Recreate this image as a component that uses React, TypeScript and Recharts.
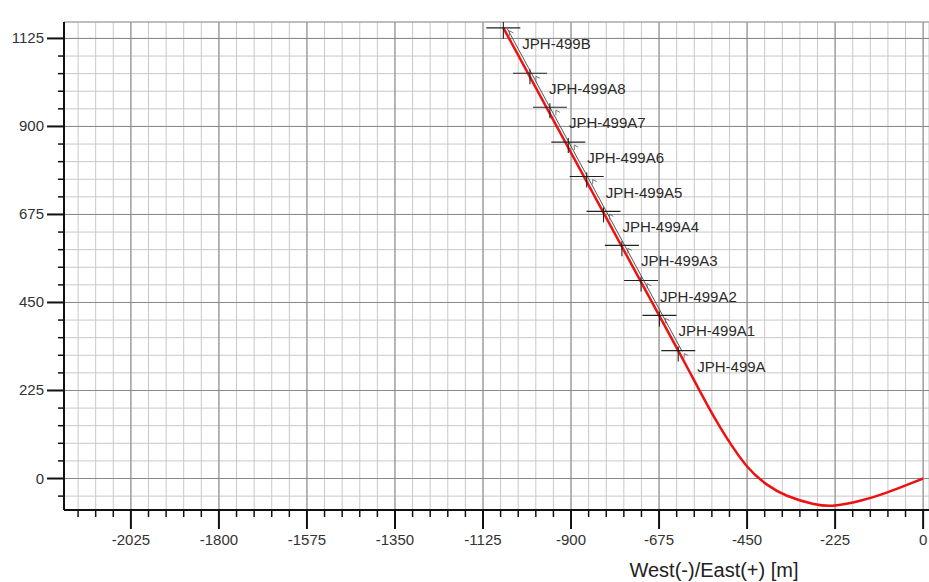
import React from 'react';
import { ComposedChart, Line, Scatter, XAxis, YAxis, CartesianGrid, ReferenceLine } from 'recharts';

// Well path (plan view): East/West [m] vs North/South [m]
// curved build section (surface at 0,0) up to JPH-499A
const curveX = [0, -25, -93, -161, -225, -280, -348, -400, -451, -502, -536, -570, -596, -626];
const curveY = [0, -10, -36, -57, -69, -65, -44, -15, 32, 104, 160, 222, 271, 327];
// straight section JPH-499A -> JPH-499B
const straightX = [-626, -1073];
const straightY = [327, 1152];

// Thin dark guide line beside the straight section
const guideX = [-1063, -616];
const guideY = [1150, 325];

// Markers
const markerNames = ['JPH-499B', 'JPH-499A8', 'JPH-499A7', 'JPH-499A6', 'JPH-499A5', 'JPH-499A4', 'JPH-499A3', 'JPH-499A2', 'JPH-499A1', 'JPH-499A'];
const markerX = [-1073, -1005, -954, -907, -860, -817, -770, -721, -674, -626];
const markerY = [1152, 1036, 949, 860, 772, 683, 596, 506, 417, 327];

// Axis ticks
const xMajor = [-2025, -1800, -1575, -1350, -1125, -900, -675, -450, -225, 0];
const yMajor = [0, 225, 450, 675, 900, 1125];
const xDomain = [-2196, 15];
const yDomain = [-80.5, 1167];

const xMinor: number[] = [];
for (let v = -2160; v <= 0; v += 45) xMinor.push(v);
const yMinor: number[] = [];
for (let v = -45; v <= 1125; v += 45) yMinor.push(v);

const curveData = curveX.map((x, i) => ({ x, y: curveY[i] }));
const straightData = straightX.map((x, i) => ({ x, y: straightY[i] }));
const guideData = guideX.map((x, i) => ({ x, y: guideY[i] }));
const markerData = markerNames.map((name, i) => ({ name, x: markerX[i], y: markerY[i] }));

const FONT = 'Liberation Sans, Arial, sans-serif';

const XTick = (props: any) => {
  const { x, y, payload } = props;
  const v = payload.value;
  const major = xMajor.includes(v);
  return (
    <g>
      <line x1={x} x2={x} y1={y} y2={y + (major ? 19 : 7)} stroke="#111" strokeWidth={major ? 2 : 1.5} />
      {major && (
        <text x={x} y={y + 35} textAnchor="middle" fontSize={15} fill="#333" fontFamily={FONT}>
          {v}
        </text>
      )}
    </g>
  );
};

const YTick = (props: any) => {
  const { x, y, payload } = props;
  const v = payload.value;
  const major = yMajor.includes(v);
  return (
    <g>
      <line x1={x} x2={x - (major ? 17 : 6)} y1={y} y2={y} stroke="#111" strokeWidth={major ? 2 : 1.5} />
      {major && (
        <text x={x - 20} y={y + 5} textAnchor="end" fontSize={15} fill="#333" fontFamily={FONT}>
          {v}
        </text>
      )}
    </g>
  );
};

const MarkerShape = (props: any) => {
  const { cx, cy, payload } = props;
  const top = payload.name === 'JPH-499B' ? cy - 18 : cy - 4;
  return (
    <g>
      <line x1={cx - 17} x2={cx + 17} y1={cy} y2={cy} stroke="#222" strokeWidth={1.1} />
      <line x1={cx} x2={cx} y1={top} y2={cy + 11} stroke="#222" strokeWidth={1.1} />
      <line x1={cx + 6} x2={cx + 6} y1={cy + 3} y2={cy + 8} stroke="#555" strokeWidth={0.8} />
      <line x1={cx + 6} x2={cx + 10} y1={cy + 3} y2={cy + 5} stroke="#555" strokeWidth={0.8} />
      <text x={cx + 19} y={cy + 21} fontSize={15} fill="#2a2a2a" fontFamily={FONT}>
        {payload.name}
      </text>
    </g>
  );
};

const AxisTitle = () => (
  <text x={714} y={577} textAnchor="middle" fontSize={20} fill="#222" fontFamily={FONT}>
    West(-)/East(+) [m]
  </text>
);

export default function App() {
  return (
    <div style={{ position: 'absolute', left: 0, top: 0, width: 929, height: 582, background: '#fff' }}>
      <ComposedChart width={929} height={582} margin={{ top: 22, right: 0, bottom: 0, left: 0 }}>
        <CartesianGrid stroke="#c8c8c8" strokeWidth={1} />
        {xMajor.map((v) => (
          <ReferenceLine key={'vx' + v} x={v} stroke="#888" strokeWidth={1} />
        ))}
        {yMajor.map((v) => (
          <ReferenceLine key={'hy' + v} y={v} stroke="#888" strokeWidth={1} />
        ))}
        <ReferenceLine y={yDomain[1]} stroke="#999" strokeWidth={1} />
        <XAxis
          type="number"
          dataKey="x"
          domain={xDomain}
          allowDataOverflow
          ticks={xMinor}
          interval={0}
          tick={<XTick />}
          tickLine={false}
          tickSize={0}
          tickMargin={0}
          height={72}
          axisLine={{ stroke: '#111', strokeWidth: 2 }}
          label={<AxisTitle />}
        />
        <YAxis
          type="number"
          dataKey="y"
          domain={yDomain}
          allowDataOverflow
          ticks={yMinor}
          interval={0}
          tick={<YTick />}
          tickLine={false}
          tickSize={0}
          tickMargin={0}
          width={64}
          axisLine={{ stroke: '#111', strokeWidth: 2 }}
        />
        <Line data={guideData} dataKey="y" type="linear" stroke="#555" strokeWidth={1} dot={false} isAnimationActive={false} />
        <Line data={curveData} dataKey="y" type="natural" stroke="#ee1111" strokeWidth={2.5} dot={false} isAnimationActive={false} />
        <Line data={straightData} dataKey="y" type="linear" stroke="#ee1111" strokeWidth={2.5} dot={false} isAnimationActive={false} />
        <Scatter data={markerData} dataKey="y" shape={<MarkerShape />} isAnimationActive={false} />
      </ComposedChart>
    </div>
  );
}
